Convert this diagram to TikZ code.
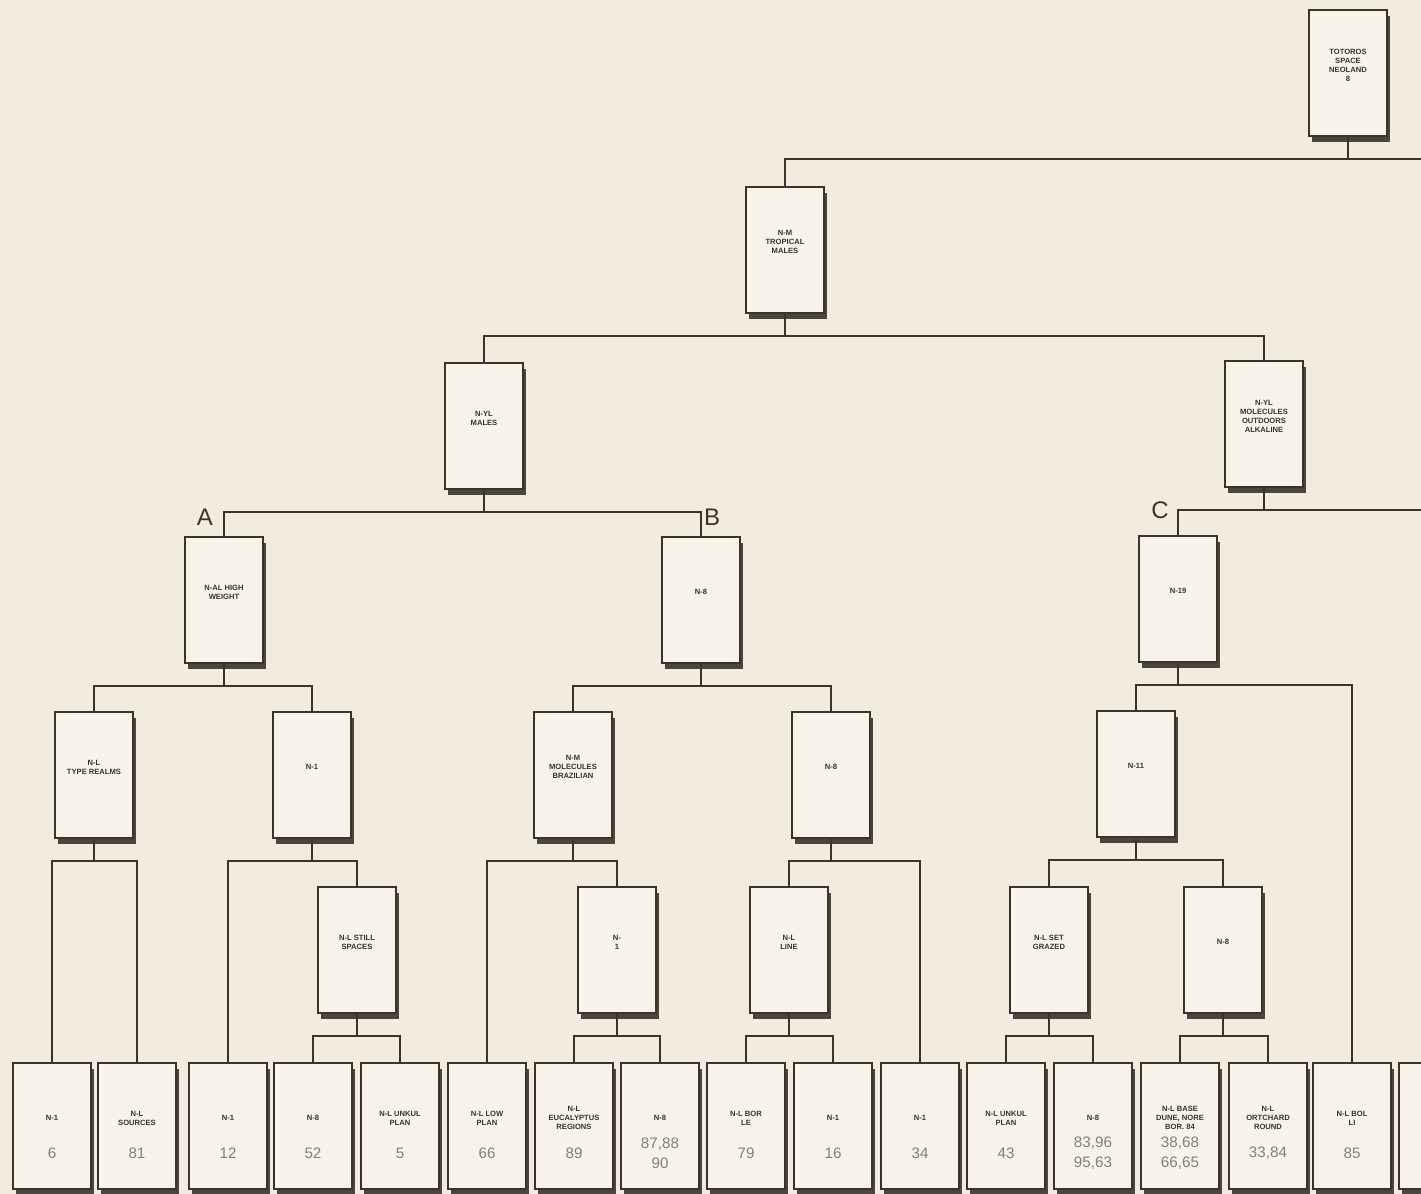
\documentclass[tikz,border=0pt]{standalone}
\usepackage{fontspec}
\setmainfont{Liberation Sans}
\usetikzlibrary{shadows,calc}
\definecolor{paper}{HTML}{F1ECDF}
\definecolor{boxfill}{HTML}{F7F3E9}
\definecolor{ink}{HTML}{3A342C}
\newcommand\mybox[4]{\node[treebox] (#1) at (#2,#3) {};\node[lbl] at ($(#1.center)+(0,-8)$) {#4};}
\newcommand\myleaf[4]{\node[treebox] (#1) at (#2,1126) {};\node[lbl] at ($(#1.center)+(0,-8)$) {#3};\node[num] at ($(#1.center)+(0,27)$) {#4};}
\begin{document}
\begin{tikzpicture}[x=0.5pt,y=-0.5pt,
  treebox/.style={draw=ink, line width=0.9pt, fill=boxfill, minimum width=39pt, minimum height=63pt, inner sep=0pt,
    drop shadow={shadow xshift=1.3pt, shadow yshift=-3.2pt, fill=ink, opacity=0.9}},
  lbl/.style={font=\fontsize{3.8}{4.5}\selectfont\bfseries, align=center, text=ink, inner sep=0pt},
  num/.style={font=\fontsize{7.6}{10}\selectfont, align=center, text=black!50, inner sep=0pt},
  conn/.style={draw=ink, line width=0.9pt},
  letter/.style={font=\fontsize{12}{12}\selectfont, text=ink, inner sep=0pt}]
\useasboundingbox (0,0) rectangle (1421,1194);
\clip (0,0) rectangle (1421,1194);
\fill[paper] (0,0) rectangle (1421,1194);

% upper levels
\mybox{root}{1348}{73}{TOTOROS\\SPACE\\NEOLAND\\8}
\mybox{L1}{785}{250}{N-M\\TROPICAL\\MALES}
\mybox{L2L}{484}{426}{N-YL\\MALES}
\mybox{L2R}{1264}{424}{N-YL\\MOLECULES\\OUTDOORS\\ALKALINE}
\mybox{A}{224}{600}{N-AL HIGH\\WEIGHT}
\mybox{B}{701}{600}{N-8}
\mybox{C}{1178}{599}{N-19}
\mybox{A1}{94}{775}{N-L\\TYPE REALMS}
\mybox{A2}{312}{775}{N-1}
\mybox{B1}{573}{775}{N-M\\MOLECULES\\BRAZILIAN}
\mybox{B2}{831}{775}{N-8}
\mybox{C1}{1136}{774}{N-11}
\mybox{A2b}{357}{950}{N-L STILL\\SPACES}
\mybox{B1b}{617}{950}{N-\\1}
\mybox{B2b}{789}{950}{N-L\\LINE}
\mybox{C1a}{1049}{950}{N-L SET\\GRAZED}
\mybox{C1b}{1223}{950}{N-8}

% leaves
\myleaf{l1}{52}{N-1}{6}
\myleaf{l2}{137}{N-L\\SOURCES}{81}
\myleaf{l3}{228}{N-1}{12}
\myleaf{l4}{313}{N-8}{52}
\myleaf{l5}{400}{N-L UNKUL\\PLAN}{5}
\myleaf{l6}{487}{N-L LOW\\PLAN}{66}
\myleaf{l7}{574}{N-L\\EUCALYPTUS\\REGIONS}{89}
\myleaf{l8}{660}{N-8}{87,88\\90}
\myleaf{l9}{746}{N-L BOR\\LE}{79}
\myleaf{l10}{833}{N-1}{16}
\myleaf{l11}{920}{N-1}{34}
\myleaf{l12}{1006}{N-L UNKUL\\PLAN}{43}
\myleaf{l13}{1093}{N-8}{83,96\\95,63}
\myleaf{l14}{1180}{N-L BASE\\DUNE, NORE\\BOR. 84}{38,68\\66,65}
\myleaf{l15}{1268}{N-L\\ORTCHARD\\ROUND}{33,84}
\myleaf{l16}{1352}{N-L BOL\\LI}{85}
\node[treebox] (l17) at (1438,1126) {};

% letters
\node[letter] (la) at (205,517) {A};
\node[letter] (lb) at (712,517) {B};
\node[letter] (lc) at (1160,510) {C};

% edge coordinates
\coordinate (redge1) at (1421,159);
\coordinate (redge2) at (1421,510);

% connectors
\draw[conn] (L1.north) |- (redge1);
\draw[conn] (root.south) -- (root.south |- redge1);
\foreach \p/\c in {L1/L2L, L1/L2R, L2L/A, L2L/B,
  A/A1, A/A2, B/B1, B/B2, C/C1, C/l16,
  A1/l1, A1/l2, A2/l3, A2/A2b, A2b/l4, A2b/l5,
  B1/l6, B1/B1b, B1b/l7, B1b/l8, B2/B2b, B2/l11, B2b/l9, B2b/l10,
  C1/C1a, C1/C1b, C1a/l12, C1a/l13, C1b/l14, C1b/l15}
  \draw[conn] (\p.south) -- ++(0,22) -| (\c.north);
\draw[conn] (C.north) |- (redge2);
\draw[conn] (L2R.south) -- (L2R.south |- redge2);
\end{tikzpicture}
\end{document}
